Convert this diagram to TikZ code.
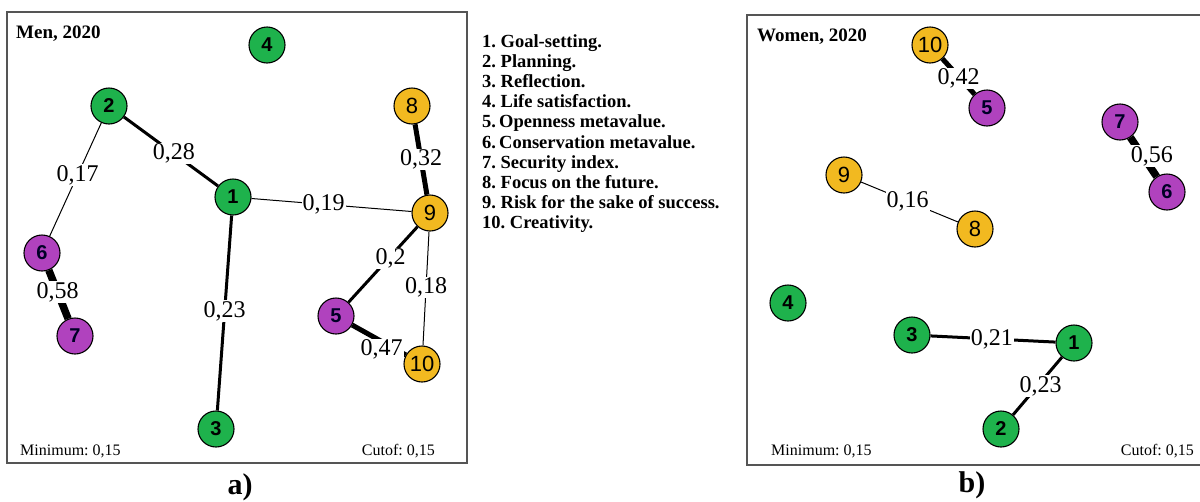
\documentclass[tikz,border=0pt]{standalone}
\usepackage{fontspec}
\setmainfont{Liberation Serif}
\newfontfamily\arialf{Liberation Sans}
\definecolor{ngreen}{RGB}{30,178,76}
\definecolor{npurple}{RGB}{176,66,190}
\definecolor{nyellow}{RGB}{242,185,32}
\definecolor{boxgray}{RGB}{85,85,85}
\frenchspacing
\begin{document}
\begin{tikzpicture}[x=1pt,y=-1pt,
  vnode/.style={circle,draw=black,line width=1.1pt,minimum size=36pt,inner sep=0pt},
  gnode/.style={vnode,fill=ngreen,font=\arialf\bfseries\fontsize{20}{20}\selectfont},
  pnode/.style={vnode,fill=npurple,font=\arialf\bfseries\fontsize{20}{20}\selectfont,text=black!85!blue},
  ynode/.style={vnode,fill=nyellow,font=\arialf\fontsize{22}{22}\selectfont},
  lbl/.style={fill=white,inner sep=1pt,font=\fontsize{24}{24}\selectfont},
  ethin/.style={draw=black,line width=1pt},
  emid/.style={draw=black,line width=3pt},
  ethick/.style={draw=black,line width=5pt},
  evthick/.style={draw=black,line width=7.5pt},
  panel/.style={draw=boxgray,line width=1.6pt},
  titletext/.style={anchor=base west,inner sep=0pt,font=\bfseries\fontsize{19}{19}\selectfont},
  foot/.style={inner sep=0pt,font=\fontsize{16}{16}\selectfont},
  leg/.style={anchor=base west,inner sep=0pt,font=\bfseries\fontsize{18.5}{18.5}\selectfont},
  figcap/.style={inner sep=0pt,font=\bfseries\fontsize{30}{30}\selectfont}
]
\useasboundingbox (0,0) rectangle (1200,501);
% ---------- left panel ----------
\draw[panel] (7,12) rectangle (467,463);
\node[titletext] (tmen) at (16,38) {Men, 2020};
\node[foot,anchor=base west] (minL) at (20,455) {Minimum: 0,15};
\node[foot,anchor=base east] (cutL) at (435,455) {Cutof: 0,15};
\node[figcap] (capa) at (240,487) {a)};

\node[gnode] (L4) at (267,45) {4};
\node[gnode] (L2) at (109,106) {2};
\node[gnode] (L1) at (233,197) {1};
\node[ynode] (L8) at (412,106) {8};
\node[ynode] (L9) at (430,213) {9};
\node[pnode] (L6) at (42,253) {6};
\node[pnode] (L7) at (75,336) {7};
\node[pnode] (L5) at (336,316) {5};
\node[ynode] (L10) at (422,364) {10};
\node[gnode] (L3) at (216,429) {3};

\path[emid] (L2) -- (L1) node[lbl,pos=0.53] (l21) {0,28};
\path[ethin] (L2) -- (L6) node[lbl,pos=0.46] (l26) {0,17};
\path[ethin] (L1) -- (L9) node[lbl,pos=0.45] (l19) {0,19};
\path[ethick] (L8) -- (L9) node[lbl,pos=0.5] (l89) {0,32};
\path[emid] (L9) -- (L5) node[lbl,pos=0.42,xshift=2pt] (l95) {0,2};
\path[ethin] (L9) -- (L10) node[lbl,pos=0.49] (l910) {0,18};
\path[evthick] (L6) -- (L7) node[lbl,pos=0.45] (l67) {0,58};
\path[emid] (L1) -- (L3) node[lbl,pos=0.49] (l13) {0,23};
\path[ethick] (L5) -- (L10) node[lbl,pos=0.55,yshift=-8pt] (l510) {0,47};

% ---------- legend ----------
\foreach \t [count=\i] in {1. Goal-setting., 2. Planning., 3. Reflection., 4. Life satisfaction., 5.\,Openness metavalue., 6.\,Conservation metavalue., 7. Security index., 8. Focus on the future., 9. Risk for the sake of success., 10. Creativity.}
  \node[leg] (leg\i) at (482,{47+20.2*(\i-1)}) {\t};

% ---------- right panel ----------
\draw[panel] (1203,15) -- (747,15) -- (747,465) -- (1203,465);
\node[titletext] (twomen) at (757,41) {Women, 2020};
\node[foot,anchor=base west] (minR) at (771,455) {Minimum: 0,15};
\node[foot,anchor=base east] (cutR) at (1194,455) {Cutof: 0,15};
\node[figcap] (capb) at (972,485) {b)};

\node[ynode] (R10) at (930,45) {10};
\node[pnode] (R5) at (987,108) {5};
\node[pnode] (R7) at (1120,122) {7};
\node[pnode] (R6) at (1167,192) {6};
\node[ynode] (R9) at (844,175) {9};
\node[ynode] (R8) at (975,229) {8};
\node[gnode] (R4) at (788,303) {4};
\node[gnode] (R3) at (912,335) {3};
\node[gnode] (R1) at (1074,343) {1};
\node[gnode] (R2) at (1001,429) {2};

\path[ethick] (R10) -- (R5) node[lbl,pos=0.5,yshift=-2pt] (r105) {0,42};
\path[evthick] (R7) -- (R6) node[lbl,pos=0.48,xshift=9pt] (r76) {0,56};
\path[ethin] (R9) -- (R8) node[lbl,pos=0.48] (r98) {0,16};
\path[emid] (R3) -- (R1) node[lbl,pos=0.49] (r31) {0,21};
\path[emid] (R1) -- (R2) node[lbl,pos=0.5,xshift=3pt] (r12) {0,23};
\end{tikzpicture}
\end{document}
